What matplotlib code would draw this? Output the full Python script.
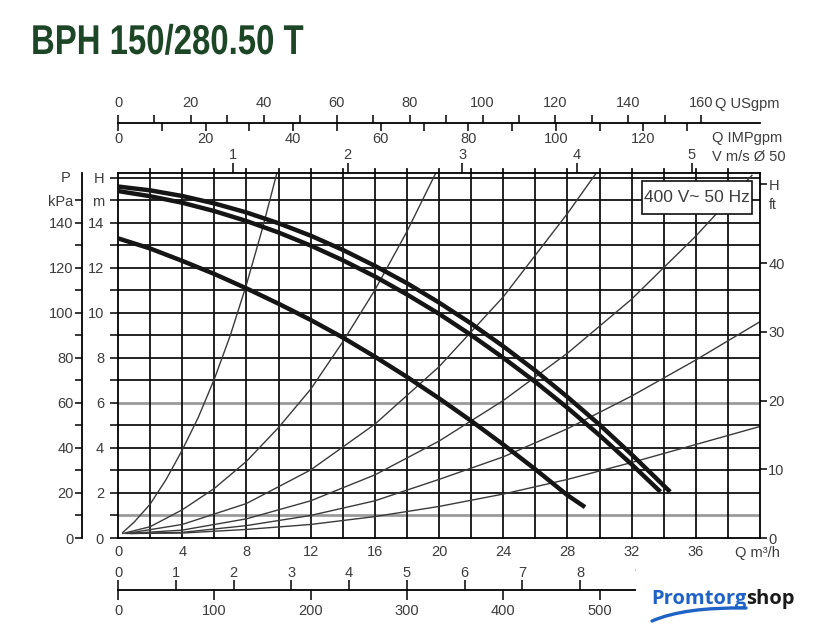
import matplotlib
matplotlib.use("Agg")
import matplotlib.pyplot as plt
from matplotlib.patches import Rectangle, PathPatch
from matplotlib.path import Path
from matplotlib.patheffects import AbstractPathEffect
from matplotlib.transforms import Affine2D

# pump curves: Q [m3/h] -> H [m]
pump1_q = [0, 2, 4, 6, 8, 10, 12, 14, 16, 18, 20, 22, 24, 26, 28, 30, 32, 34.4]
pump1_h = [15.6, 15.43, 15.18, 14.85, 14.45, 13.97, 13.42, 12.79, 12.08, 11.31, 10.45,
           9.52, 8.51, 7.43, 6.26, 5.03, 3.71, 2.05]
pump2_q = [0, 2, 4, 6, 8, 10, 12, 14, 16, 18, 20, 22, 24, 26, 28, 30, 32, 33.8]
pump2_h = [15.4, 15.17, 14.88, 14.51, 14.07, 13.56, 12.98, 12.33, 11.61, 10.81, 9.95,
           9.01, 8.0, 6.93, 5.78, 4.56, 3.27, 2.05]
pump3_q = [0, 2, 4, 6, 8, 10, 12, 14, 16, 18, 20, 22, 24, 26, 28, 29.1]
pump3_h = [13.3, 12.85, 12.3, 11.72, 11.08, 10.4, 9.68, 8.9, 8.05, 7.15, 6.2, 5.2, 4.15,
           3.05, 1.9, 1.37]

# system (pipe) curves
sys1_q = [0.3, 1, 2, 3, 4, 5, 6, 7, 8, 9, 9.9]
sys1_h = [0.25, 0.7, 1.5, 2.6, 3.9, 5.35, 7.05, 9.0, 11.24, 13.74, 16.2]
sys2_q = [0.3, 2, 4, 6, 8, 10, 12, 14, 16, 18, 19.8]
sys2_h = [0.2, 0.5, 1.25, 2.2, 3.4, 4.9, 6.6, 8.7, 11.0, 13.6, 16.2]
sys3_q = [0.5, 4, 8, 12, 16, 20, 24, 28, 29.8]
sys3_h = [0.2, 0.6, 1.53, 3.02, 5.05, 7.6, 10.7, 14.4, 16.2]
sys4_q = [0.6, 4, 8, 12, 16, 20, 24, 28, 32, 36, 39.5]
sys4_h = [0.2, 0.35, 0.85, 1.65, 2.8, 4.3, 6.1, 8.2, 10.6, 13.4, 16.1]
sys5_q = [0.8, 4, 8, 12, 16, 20, 24, 28, 32, 36, 40]
sys5_h = [0.2, 0.25, 0.55, 1.0, 1.65, 2.6, 3.6, 4.85, 6.3, 7.9, 9.6]
sys6_q = [0.8, 4, 8, 12, 16, 20, 24, 28, 32, 36, 40]
sys6_h = [0.2, 0.22, 0.38, 0.6, 0.95, 1.4, 1.95, 2.6, 3.35, 4.15, 4.95]

q_ticks = [0, 4, 8, 12, 16, 20, 24, 28, 32, 36]
us_labels = [0, 20, 40, 60, 80, 100, 120, 140, 160]
imp_labels = [0, 20, 40, 60, 80, 100, 120]
v_labels = [1, 2, 3, 4, 5]
ls_labels = [0, 1, 2, 3, 4, 5, 6, 7, 8, 9]
lmin_labels = [0, 100, 200, 300, 400, 500]
kpa_labels = [0, 20, 40, 60, 80, 100, 120, 140]
ft_labels = [0, 10, 20, 30, 40]

# unit conversions from m3/h
US_GPM = 4.403
IMP_GPM = 3.666
L_S = 1 / 3.6
L_MIN = 1000 / 60
V_DN50 = 1 / 7.15
FT = 3.2808
KPA = 10.0

QMAX, HMAX = 40, 16.2
W, H = 821, 640
TXT = "#3c3c3c"
plt.rcParams["font.family"] = ["Liberation Sans", "DejaVu Sans"]
plt.rcParams["font.size"] = 10.5


def fx(px):
    return px / W


def fy(py):
    return 1 - py / H


class Squeeze(AbstractPathEffect):
    """Narrow the glyphs horizontally (condensed title face)."""

    def __init__(self, sx, x0):
        super().__init__()
        self.sx, self.x0 = sx, x0

    def draw_path(self, renderer, gc, tpath, affine, rgbFace=None):
        aff = affine + Affine2D().translate(-self.x0, 0).scale(self.sx, 1).translate(self.x0, 0)
        renderer.draw_path(gc, tpath, aff, rgbFace)


fig = plt.figure(figsize=(W / 100, H / 100), dpi=100)
L, R, B, T = 118, 760, 538, 173
rect = [fx(L), fy(B), (R - L) / W, (B - T) / H]

ax = fig.add_axes(rect)
ax.set_xlim(0, QMAX)
ax.set_ylim(0, HMAX)
for sp in ax.spines.values():
    sp.set_linewidth(1.3)

# grid
for h in range(1, 17):
    grey = h in (1, 6)
    ax.axhline(h, color="#9a9a9a" if grey else "#111", lw=2.0 if grey else 1.3, zorder=1)
for q in range(2, QMAX, 2):
    ax.plot([q, q], [0, HMAX + 0.18], color="#111", lw=1.3, zorder=1, clip_on=False)

for qq, hh in [(sys1_q, sys1_h), (sys2_q, sys2_h), (sys3_q, sys3_h),
               (sys4_q, sys4_h), (sys5_q, sys5_h), (sys6_q, sys6_h)]:
    ax.plot(qq, hh, color="#3a3a3a", lw=1.0, zorder=2)
for qq, hh in [(pump1_q, pump1_h), (pump2_q, pump2_h), (pump3_q, pump3_h)]:
    ax.plot(qq, hh, color="#151515", lw=3.2, zorder=3, solid_capstyle="butt")

ax.set_xticks(q_ticks)
ax.tick_params(axis="x", length=0, pad=5, labelcolor=TXT)
ax.set_yticks(range(0, 17))
ax.set_yticklabels([str(h) if h % 2 == 0 and h <= 14 else ("m" if h == 15 else ("H" if h == 16 else ""))
                    for h in range(0, 17)])
ax.tick_params(axis="y", length=6, width=1.1, pad=4, labelcolor=TXT)

# rating box
ax.add_patch(Rectangle((32.65, 14.4), 6.85, 1.46, facecolor="white", edgecolor="#111", lw=1.2, zorder=4))
ax.text(36.07, 15.13, "400 V~ 50 Hz", ha="center", va="center", fontsize=12.5, color=TXT, zorder=5)

# right axis in feet
ax_ft = ax.twinx()
ax_ft.set_ylim(0, HMAX * FT)
ax_ft.set_yticks(ft_labels + [51.5])
ax_ft.set_yticklabels([str(v) for v in ft_labels] + ["H"])
ax_ft.tick_params(axis="y", length=5, width=1.1, pad=1, labelcolor=TXT)
for sp in ax_ft.spines.values():
    sp.set_visible(False)
fig.text(fx(769), fy(205), "ft", ha="left", va="center", color=TXT, fontsize=10)

# left pressure axis
ax_p = fig.add_axes(rect)
ax_p.patch.set_visible(False)
ax_p.set_ylim(0, HMAX * KPA)
ax_p.set_xticks([])
for side in ("top", "right", "bottom"):
    ax_p.spines[side].set_visible(False)
ax_p.spines["left"].set_position(("outward", 36 * 0.72))
ax_p.spines["left"].set_linewidth(1.3)
ax_p.set_yticks(list(range(0, 160, 10)))
ax_p.set_yticklabels([str(v) if v in kpa_labels else ("kPa" if v == 150 else "")
                      for v in range(0, 160, 10)])
ax_p.tick_params(axis="y", length=5, width=1.1, pad=1, labelcolor=TXT)
fig.text(fx(66), fy(178), "P", ha="center", va="center", color=TXT)


def scale_axis(py, xmax, side, ticks, labels, length, pad, spine=True):
    a = fig.add_axes([fx(L), fy(py), (R - L) / W, 1e-5])
    a.patch.set_visible(False)
    for s in ("top", "left", "right"):
        a.spines[s].set_visible(False)
    a.spines["bottom"].set_visible(spine)
    a.spines["bottom"].set_linewidth(1.3)
    a.set_xlim(0, xmax)
    a.set_yticks([])
    a.set_xticks(ticks)
    a.set_xticklabels([str(t) if t in labels else "" for t in ticks])
    if side == "top":
        a.xaxis.set_ticks_position("top")
    a.tick_params(axis="x", direction="out", length=length, width=1.1, pad=pad, labelcolor=TXT)
    return a


scale_axis(123, QMAX * US_GPM, "top", list(range(0, 170, 10)), us_labels, 6, 3)
scale_axis(123, QMAX * IMP_GPM, "bottom", list(range(0, 140, 10)), imp_labels, 6, 0.5, spine=False)
scale_axis(173, QMAX * V_DN50, "top", v_labels, v_labels, 7, 1, spine=False)
scale_axis(590, QMAX * L_S, "top", ls_labels, ls_labels, 7, 0.5)
scale_axis(590, QMAX * L_MIN, "bottom", lmin_labels, lmin_labels, 7, 3, spine=False)

fig.text(fx(715), fy(104), "Q USgpm", ha="left", va="center", color=TXT)
fig.text(fx(712), fy(138), "Q IMPgpm", ha="left", va="center", color=TXT)
fig.text(fx(712), fy(157), "V m/s Ø 50", ha="left", va="center", color=TXT)
fig.text(fx(735), fy(553), "Q m³/h", ha="left", va="center", color=TXT)

# title, condensed bold
fig.text(fx(31), fy(43), "BPH 150/280.50 T", ha="left", va="center", fontsize=30,
         fontweight="bold", color="#1d4626", path_effects=[Squeeze(0.79, 31)])

# logo area
fig.patches.append(Rectangle((fx(636), 0), 1 - fx(636), fy(563), transform=fig.transFigure,
                             facecolor="white", edgecolor="none", zorder=10))
t1 = fig.text(fx(651), fy(604), "Promtorg", ha="left", va="baseline", fontsize=14.5, fontweight="bold",
              color="#1f62c6", family=["Open Sans", "DejaVu Sans"], zorder=11)
fig.canvas.draw()
bb = t1.get_window_extent()
fig.text(bb.x1 / W, fy(604), "shop", ha="left", va="baseline", fontsize=14.5, fontweight="bold",
         color="#1a1a1a", family=["Open Sans", "DejaVu Sans"], zorder=11)
swoosh = Path([(fx(652), fy(621)), (fx(684), fy(607)), (fx(746), fy(608))],
              [Path.MOVETO, Path.CURVE3, Path.CURVE3])
fig.patches.append(PathPatch(swoosh, transform=fig.transFigure, facecolor="none",
                             edgecolor="#1f62c6", lw=2.4, capstyle="round", zorder=11))

fig.savefig("out.png", dpi=100)
